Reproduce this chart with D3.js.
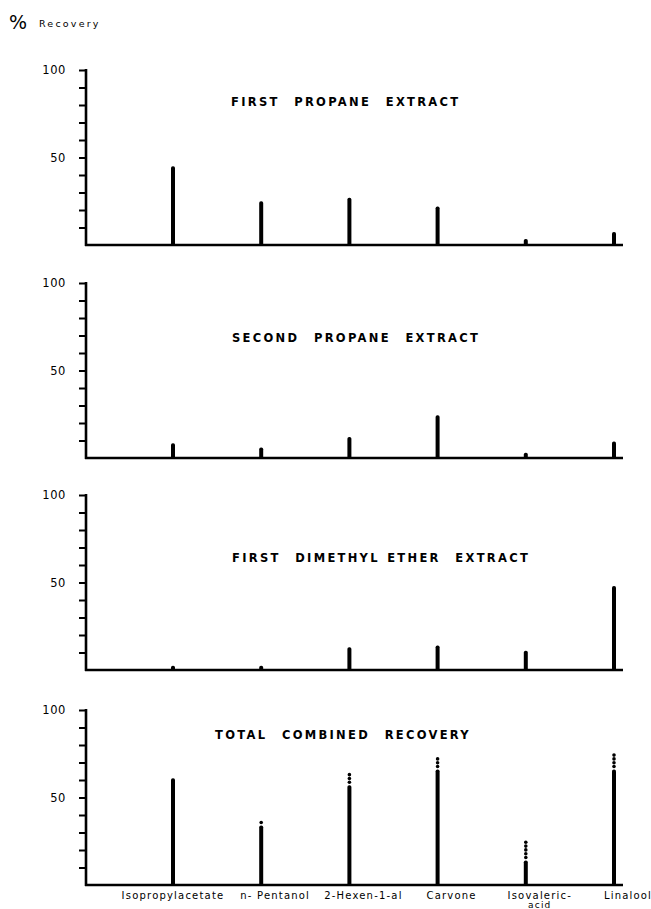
<!DOCTYPE html>
<meta charset='utf-8'>
<title>% Recovery of flavour compounds</title>
<style>
html, body {
  margin: 0;
  padding: 0;
  background: #fff;
}
text { font-family: 'DejaVu Sans', sans-serif; fill: #000; }
</style>
<script src='https://d3js.org/d3.v7.min.js'></script>
<body>
<svg id='chart' width='651' height='909'></svg>
<script>
// Compounds along the x axis (last one wraps onto two lines)
var categories = ['Isopropylacetate', 'n-Pentanol', '2-Hexen-1-al', 'Carvone', 'Isovaleric-acid', 'Linalool'];
var categoryLines = [['Isopropylacetate'], ['n- Pentanol'], ['2-Hexen-1-al'], ['Carvone'], ['Isovaleric-', 'acid'], ['Linalool']];

var panelTitles = ['FIRST  PROPANE  EXTRACT', 'SECOND  PROPANE  EXTRACT', 'FIRST  DIMETHYL ETHER  EXTRACT', 'TOTAL  COMBINED  RECOVERY'];

// % recovery
var firstPropane  = [45, 25, 27, 22, 3.5, 7.5];
var secondPropane = [8.5, 6, 12, 24.5, 3, 9.5];
var firstDME      = [2.5, 2.5, 13, 14, 11, 48];
var totalSolid    = [61, 34, 57, 66, 14, 66];
// dotted part of the total bars goes up to these
var totalUpper    = [61, 38, 64.5, 75, 27, 77];

var yTickValues = [10, 20, 30, 40, 50, 60, 70, 80, 90, 100];
var yTickLabels = { 50: '50', 100: '100' };

// layout
var axisX = 86, baseEnd = 623;
var panelTops = [70, 283, 495, 710];
var panelH = 175;
var titlePos = [[231, 106], [232, 342], [232, 562], [215, 739]];

var series = [firstPropane, secondPropane, firstDME, totalSolid];

var svg = d3.select('#chart');

var x = d3.scalePoint()
  .domain(categories)
  .range([173, 614]);

// "% Recovery" header
svg.append('text')
  .attr('x', 9).attr('y', 29)
  .attr('font-size', 19)
  .text('%');
svg.append('text')
  .attr('x', 39).attr('y', 27)
  .attr('font-size', 9.5)
  .attr('letter-spacing', 2.2)
  .text('Recovery');

series.forEach(function (vals, p) {
  var top = panelTops[p];
  var y = d3.scaleLinear().domain([0, 100]).range([top + panelH, top]);
  var g = svg.append('g');

  // y axis with minor ticks every 10
  var yAxis = d3.axisLeft(y)
    .tickValues(yTickValues)
    .tickSize(7)
    .tickPadding(13)
    .tickFormat(function (d) { return yTickLabels[d] || ''; });
  var ga = g.append('g')
    .attr('transform', 'translate(' + axisX + ',0)')
    .call(yAxis);
  ga.select('.domain').remove();
  ga.selectAll('.tick line').attr('stroke', '#000').attr('stroke-width', 2);
  ga.selectAll('.tick text')
    .attr('font-family', "'DejaVu Sans', sans-serif")
    .attr('font-size', 11.5)
    .attr('letter-spacing', 0.6)
    .attr('fill', '#000');

  // axis lines
  g.append('line')
    .attr('x1', axisX).attr('x2', axisX)
    .attr('y1', y(100) - 1).attr('y2', y(0) + 1)
    .attr('stroke', '#000').attr('stroke-width', 2.6);
  g.append('line')
    .attr('x1', axisX - 1).attr('x2', baseEnd)
    .attr('y1', y(0)).attr('y2', y(0))
    .attr('stroke', '#000').attr('stroke-width', 2.6);

  // panel title
  g.append('text')
    .attr('x', titlePos[p][0]).attr('y', titlePos[p][1])
    .attr('font-size', 11.5)
    .attr('font-weight', 'bold')
    .attr('letter-spacing', 2.3)
    .attr('word-spacing', 1)
    .style('white-space', 'pre')
    .text(panelTitles[p]);

  // bars
  g.selectAll('rect.bar')
    .data(vals)
    .enter().append('rect')
    .attr('class', 'bar')
    .attr('x', function (d, i) { return x(categories[i]) - 2; })
    .attr('width', 4)
    .attr('y', function (d) { return y(d); })
    .attr('height', function (d) { return y(0) - y(d); })
    .attr('rx', 1.8)
    .attr('fill', '#000');

  // dotted continuation on the combined panel
  if (p === 3) {
    totalUpper.forEach(function (u, i) {
      if (u <= totalSolid[i]) return;
      var y0 = y(totalSolid[i]) - 3, y1 = y(u) + 1.5;
      d3.range(y0, y1 - 0.1, -3.8).forEach(function (yy) {
        g.append('circle')
          .attr('cx', x(categories[i]))
          .attr('cy', yy)
          .attr('r', 1.8)
          .attr('fill', '#000');
      });
    });
  }
});

// compound names under the last panel
var labelY = panelTops[3] + panelH + 14;
categoryLines.forEach(function (lines, i) {
  var cx = x(categories[i]) + (i === 0 ? 0 : 14);
  var t = svg.append('text')
    .attr('x', cx)
    .attr('y', labelY)
    .attr('text-anchor', 'middle')
    .attr('font-size', 10)
    .attr('letter-spacing', 1.2);
  lines.forEach(function (s, k) {
    t.append('tspan')
      .attr('x', cx)
      .attr('dy', k === 0 ? 0 : 8.5)
      .attr('font-size', k === 0 ? 10 : 9)
      .text(s);
  });
});
</script>
</body>
